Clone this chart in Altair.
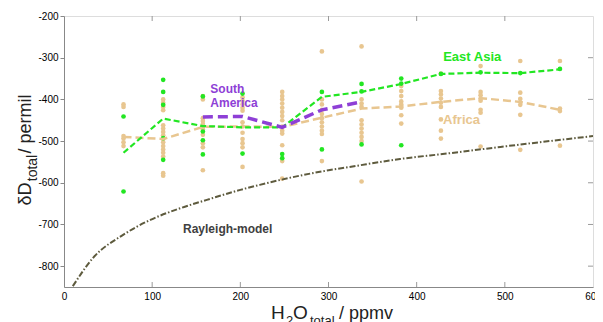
import altair as alt
import pandas as pd

# ---- data ----
bins = [67.5, 112.5, 157.5, 202.5, 247.5, 292.5, 337.5, 382.5, 427.5, 472.5, 517.5, 562.5]

east_asia_line = [-528, -446, -464, -467, -467, -394, -382, -363, -339, -336, -337, -328]
africa_line = [-490, -495, -466, -465, -466, -444, -422, -417, -406, -397, -406, -425]
south_america_x = [157.5, 202.5, 247.5, 292.5, 337.5]
south_america_line = [-442, -441, -467, -425, -406]

east_asia_dots = {
    67.5: [-441, -621],
    112.5: [-353, -382, -413, -493, -545],
    157.5: [-393, -477, -498, -532],
    202.5: [-386, -530],
    247.5: [-531, -541],
    292.5: [-382, -520],
    337.5: [-363, -381, -508],
    382.5: [-350, -362, -510],
    427.5: [-339],
    472.5: [-335],
    517.5: [-337],
    562.5: [-327],
}
africa_dots = {
    67.5: [-412, -418, -488, -494, -503, -512],
    112.5: [-400, -408, -418, -426, -462, -470, -478, -486, -495, -503, -512, -520, -528, -537, -577, -583],
    157.5: [-392, -400, -445, -452, -459, -466, -472, -485, -505, -515, -570],
    202.5: [-395, -403, -412, -420, -427, -455, -465, -480, -495, -505, -515, -562],
    247.5: [-382, -392, -400, -410, -420, -430, -440, -450, -465, -475, -482, -510, -548, -590],
    292.5: [-285, -400, -412, -425, -435, -445, -455, -465, -475, -483, -548],
    337.5: [-273, -400, -410, -418, -450, -460, -470, -480, -490, -500, -597],
    382.5: [-368, -380, -392, -405, -412, -420, -438, -458],
    427.5: [-338, -380, -388, -398, -408, -418, -448, -475, -494],
    472.5: [-320, -382, -390, -398, -403, -425, -432, -513],
    517.5: [-308, -384, -399, -413, -437, -521],
    562.5: [-308, -422, -428, -511],
}

rayleigh_x = [10, 33, 67, 98, 132, 162, 200, 222, 300, 324, 381, 438, 495, 600]
rayleigh_y = [-848, -780, -725, -689, -661, -641, -617, -605, -570, -562, -543, -529, -514, -488]

x_ticks = [0, 100, 200, 300, 400, 500, 600]
y_ticks = [-800, -700, -600, -500, -400, -300, -200]

GREEN = "#22e622"
TAN = "#e8c690"
PURPLE = "#8e3fd6"
OLIVE = "#5e5b3e"
FONT = "Liberation Sans"

W, H = 529, 271

xs = alt.Scale(domain=[0, 600], nice=False, zero=False)
ys = alt.Scale(domain=[-850, -200], nice=False, zero=False)


def dots_df(d):
    rows = []
    for k, vals in d.items():
        for v in vals:
            rows.append({"x": k, "y": v})
    return pd.DataFrame(rows)


ea_dots = dots_df(east_asia_dots)
af_dots = dots_df(africa_dots)

X = alt.X("x:Q", scale=xs, axis=alt.Axis(values=x_ticks, title=None, ticks=False, grid=False,
                                           labelPadding=4, labelFlush=False,
                                           labelExpr="'' + datum.value"))
Y = alt.Y("y:Q", scale=ys, axis=alt.Axis(values=y_ticks, title=None, tickSize=4, grid=False,
                                           labelPadding=2, labelExpr="'' + datum.value"))

base_af = alt.Chart(af_dots).mark_circle(size=22, color=TAN, opacity=1).encode(x=X, y=Y)
base_ea = alt.Chart(ea_dots).mark_circle(size=22, color=GREEN, opacity=1).encode(x="x:Q", y="y:Q")

ray = alt.Chart(pd.DataFrame({"x": rayleigh_x, "y": rayleigh_y})).mark_line(
    color=OLIVE, strokeWidth=2, strokeDash=[6, 2, 1.5, 2], interpolate="monotone", clip=True
).encode(x="x:Q", y="y:Q")

af_line = alt.Chart(pd.DataFrame({"x": bins, "y": africa_line})).mark_line(
    color=TAN, strokeWidth=2.5, strokeDash=[8, 4]
).encode(x="x:Q", y="y:Q")

ea_line = alt.Chart(pd.DataFrame({"x": bins, "y": east_asia_line})).mark_line(
    color=GREEN, strokeWidth=2.2, strokeDash=[6, 3]
).encode(x="x:Q", y="y:Q")

sa_line = alt.Chart(pd.DataFrame({"x": south_america_x, "y": south_america_line})).mark_line(
    color=PURPLE, strokeWidth=3.5, strokeDash=[10, 5]
).encode(x="x:Q", y="y:Q")

# series labels (data coordinates)
labels = pd.DataFrame({
    "x": [463, 166, 166, 430, 135],
    "y": [-298, -374, -408, -449, -710],
    "t": ["East Asia", "South", "America", "Africa", "Rayleigh-model"],
    "c": [GREEN, PURPLE, PURPLE, TAN, "#404040"],
    "a": ["center", "left", "left", "left", "left"],
    "s": [13, 12, 12, 13, 12],
})
lab_layers = []
for _, r in labels.iterrows():
    lab_layers.append(
        alt.Chart(pd.DataFrame([r])).mark_text(
            font=FONT, fontSize=float(r["s"]), fontWeight="bold",
            color=r["c"], align=r["a"], baseline="middle"
        ).encode(x="x:Q", y="y:Q", text="t:N")
    )

# inward ticks on bottom, top and right
inner_x = [100, 200, 300, 400, 500]
inner_y = [-800, -700, -600, -500, -400, -300]
tick_col = "#9a9a9a"
bt = alt.Chart(pd.DataFrame({"x": inner_x})).mark_rule(color=tick_col, strokeWidth=1).encode(
    x="x:Q", y=alt.value(H), y2=alt.value(H - 5))
tt = alt.Chart(pd.DataFrame({"x": inner_x})).mark_rule(color=tick_col, strokeWidth=1).encode(
    x="x:Q", y=alt.value(0), y2=alt.value(5))
rt = alt.Chart(pd.DataFrame({"y": inner_y})).mark_rule(color=tick_col, strokeWidth=1).encode(
    y="y:Q", x=alt.value(W), x2=alt.value(W - 5))

# axis titles with subscripts (pixel placement, outside the plot area)
def txt(s, x, y, size, angle=0, align="center", baseline="middle"):
    kw = dict(font=FONT, fontSize=size, color="#222", align=align, baseline=baseline)
    if angle:
        kw["angle"] = angle
    return alt.Chart(pd.DataFrame({"t": [s]})).mark_text(**kw).encode(
        x=alt.value(x), y=alt.value(y), text="t:N")

ytitle = [
    txt("δD", -38, 178, 18, angle=270),
    txt("total", -31, 152, 14, angle=270),
    txt("/ permil", -38, 108, 18, angle=270),
]
xtitle = [
    txt("H", 207, 303, 19, align="left", baseline="alphabetic"),
    txt("2", 222, 309, 13, align="left", baseline="alphabetic"),
    txt("O", 229, 303, 19, align="left", baseline="alphabetic"),
    txt("total", 246, 309, 13, align="left", baseline="alphabetic"),
    txt("/ ppmv", 275, 303, 18, align="left", baseline="alphabetic"),
]

chart = alt.layer(
    base_af, base_ea, ray, af_line, ea_line, sa_line, bt, tt, rt, *lab_layers, *ytitle, *xtitle
).properties(
    width=W, height=H,
    autosize=alt.AutoSizeParams(type="none"),
    padding={"left": 56, "top": 8, "right": 2, "bottom": 40},
).configure_view(
    stroke="#a8a8a8", strokeWidth=1.5
).configure_axis(
    domainColor="#a8a8a8", domainWidth=1.5, tickColor="#9a9a9a",
    labelFont=FONT, labelFontSize=12, labelColor="#404040"
).configure(background="white")

chart.save("out.html", embed_options={"renderer": "svg", "actions": False})
